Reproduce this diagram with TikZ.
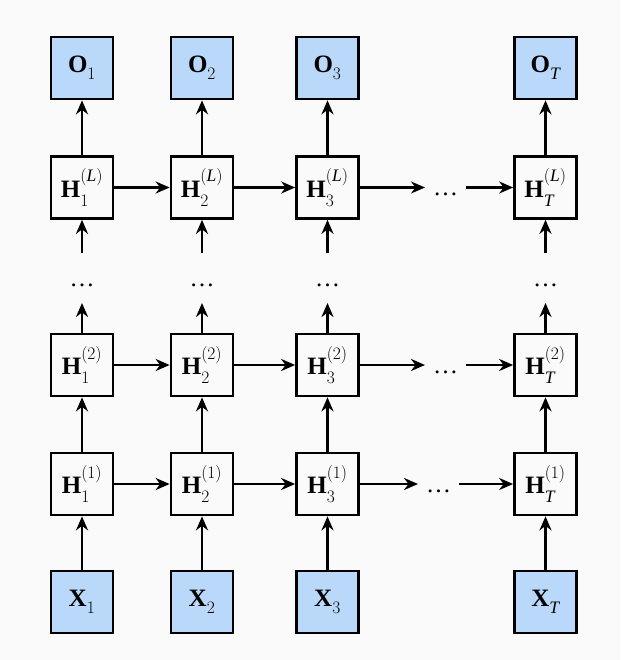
\RequirePackage{fix-cm}
\documentclass[tikz,border=0pt]{standalone}
\usepackage{fontspec}
\setmainfont{Liberation Serif}
\setmathrm{Liberation Serif}
\usetikzlibrary{arrows.meta}
\definecolor{bg}{HTML}{FAFAFA}
\definecolor{blu}{HTML}{B9D8FA}
\newcommand\hlab[3]{$\mathbf{#1}_{\raisebox{-3pt}{$\scriptstyle #2$}}^{\raisebox{6pt}{$\scriptstyle #3$}}$}
\newcommand\iolab[2]{$\mathbf{#1}_{\raisebox{-3pt}{$\scriptstyle #2$}}$}
\begin{document}
\begin{tikzpicture}[x=1pt,y=-1pt,
  lbl/.style={font=\fontsize{25}{29}\selectfont},
  box/.style={draw, line width=2.7pt, minimum size=62pt, inner sep=0pt, fill=bg, lbl},
  io/.style={box, fill=blu},
  arr/.style={line width=2.7pt, -{Stealth[length=14pt,width=12pt,inset=4.5pt]}},
  gap/.style={inner sep=0pt, outer sep=0pt, text height=16pt, text depth=0pt, lbl}]
\fill[bg] (0,0) rectangle (620,660);
\useasboundingbox (0,0) rectangle (620,660);
\foreach \c/\x/\s in {1/82/1,2/202/2,3/327.5/3,T/545.5/\mathit{T}}{
  \node[io]  (O\c)  at (\x,68)    {\iolab{O}{\s}};
  \node[box] (HL\c) at (\x,187.5) {\hlab{H}{\s}{(\mathit{L})}};
  \node[gap, minimum height=50pt] (V\c) at (\x,278) {\ldots};
  \node[box] (HB\c) at (\x,365)   {\hlab{H}{\s}{(2)}};
  \node[box] (HA\c) at (\x,484)   {\hlab{H}{\s}{(1)}};
  \node[io]  (X\c)  at (\x,602)   {\iolab{X}{\s}};
  \draw[arr] (HL\c) -- (O\c);
  \draw[arr] (V\c.north) -- (HL\c);
  \draw[arr] (HB\c) -- (V\c.south);
  \draw[arr] (HA\c) -- (HB\c);
  \draw[arr] (X\c) -- (HA\c);
}
\node[gap, minimum width=41pt] (GL) at (445.5,187.5) {\ldots};
\node[gap, minimum width=41pt] (GB) at (445.5,365) {\ldots};
\node[gap, minimum width=41pt] (GA) at (438.5,484) {\ldots};
\foreach \r in {L,B,A}{
  \draw[arr] (H\r1) -- (H\r2);
  \draw[arr] (H\r2) -- (H\r3);
  \draw[arr] (H\r3) -- (G\r.west);
  \draw[arr] (G\r.east) -- (H\r T);
}
\end{tikzpicture}
\end{document}
